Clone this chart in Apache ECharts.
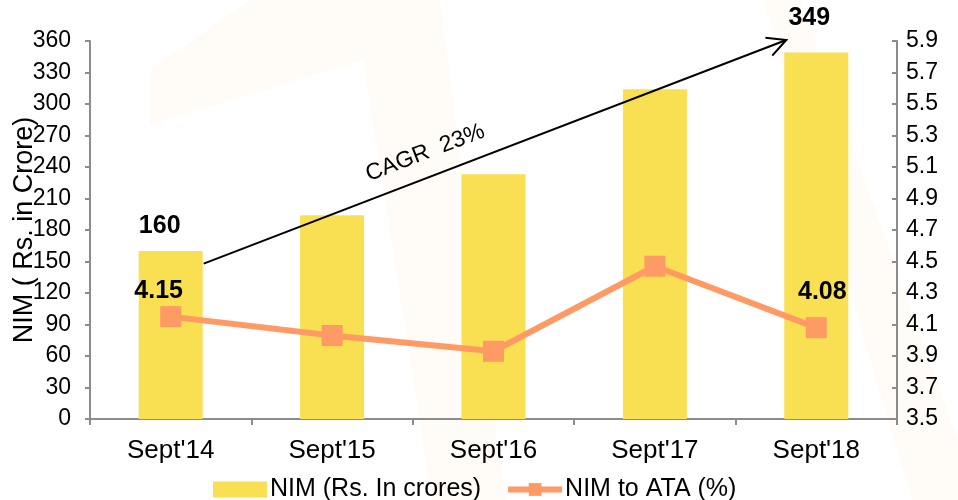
<!DOCTYPE html>
<html>
<head>
<meta charset="utf-8">
<script src="https://cdn.jsdelivr.net/npm/echarts@6/dist/echarts.min.js"></script>
<style>
html,body{margin:0;padding:0;background:#fff;}
#c{width:958px;height:500px;}
</style>
</head>
<body>
<div id="c"></div>
<script>
// ---- data ----
var categories = ["Sept'14", "Sept'15", "Sept'16", "Sept'17", "Sept'18"];
var nimCrores = [160, 194, 233, 314, 349];
var nimToAta = [4.15, 4.03, 3.93, 4.47, 4.08];
var leftTicks = {min: 0, max: 360, interval: 30};
var rightTicks = {min: 3.5, max: 5.9, interval: 0.2};
var cagrText = 'CAGR  23%';
var arrowFrom = [0, 148];   // [category index, value] start of CAGR arrow
var arrowTo = [4, 361];     // end of CAGR arrow

var FONT = 'Liberation Sans, Arial, sans-serif';
var BAR = '#F9DF52';
var LINE = '#FF9A64';
var AXIS = '#8c8c8c';

var barLabelCfg = {
  0: {distance: 12, offset: [-11, 0]},
  4: {distance: 22, offset: [-7, 0]}
};
var lineLabelCfg = {
  0: {distance: 3, offset: [-12, 0]},
  4: {distance: 13, offset: [6, 0]}
};

var barData = nimCrores.map(function (v, i) {
  var c = barLabelCfg[i];
  return c ? {value: v, label: {show: true, position: 'top', distance: c.distance, offset: c.offset}} : v;
});
var lineData = nimToAta.map(function (v, i) {
  var c = lineLabelCfg[i];
  return c ? {value: v, label: {show: true, position: 'top', distance: c.distance, offset: c.offset,
    formatter: function (p) { return p.value.toFixed(2); }}} : v;
});

var chart = echarts.init(document.getElementById('c'), null, {renderer: 'canvas'});

var option = {
  animation: false,
  backgroundColor: '#ffffff',
  textStyle: {fontFamily: FONT},
  grid: {left: 90, right: 61, top: 41, bottom: 81, containLabel: false, outerBoundsMode: 'none'},
  legend: {
    data: [
      {name: 'NIM (Rs. In crores)', icon: 'rect'},
      {name: 'NIM to ATA (%)', lineStyle: {width: 6}}
    ],
    left: 208,
    top: 472,
    itemWidth: 54,
    itemHeight: 16,
    itemGap: 24,
    textStyle: {fontSize: 25, color: '#000', fontFamily: FONT, padding: [0, 0, 0, -2]}
  },
  xAxis: {
    type: 'category',
    data: categories,
    boundaryGap: true,
    axisLine: {lineStyle: {color: AXIS, width: 2}},
    axisTick: {show: true, alignWithLabel: false, length: 6, lineStyle: {color: AXIS, width: 2}},
    axisLabel: {fontSize: 26, color: '#000', margin: 19, fontFamily: FONT}
  },
  yAxis: [
    {
      type: 'value',
      min: leftTicks.min, max: leftTicks.max, interval: leftTicks.interval,
      name: 'NIM ( Rs. in Crore)',
      nameLocation: 'middle',
      nameGap: 52,
      nameMoveOverlap: false,
      nameRotate: 90,
      nameTextStyle: {fontSize: 27, color: '#000', fontFamily: FONT},
      axisLine: {show: true, lineStyle: {color: AXIS, width: 2}},
      axisTick: {show: true, length: 5, lineStyle: {color: AXIS, width: 2}},
      axisLabel: {fontSize: 23, color: '#000', margin: 19, fontFamily: FONT},
      splitLine: {show: false}
    },
    {
      type: 'value',
      position: 'right',
      min: rightTicks.min, max: rightTicks.max, interval: rightTicks.interval,
      axisLine: {show: true, lineStyle: {color: AXIS, width: 2}},
      axisTick: {show: true, inside: true, length: 5, lineStyle: {color: AXIS, width: 2}},
      axisLabel: {fontSize: 23, color: '#000', margin: 9, fontFamily: FONT,
        formatter: function (v) { return v.toFixed(1); }},
      splitLine: {show: false}
    }
  ],
  series: [
    {
      name: 'NIM (Rs. In crores)',
      type: 'bar',
      yAxisIndex: 0,
      data: barData,
      barWidth: 64,
      itemStyle: {color: BAR},
      label: {show: false, color: '#000', fontSize: 25, fontWeight: 'bold', fontFamily: FONT},
      z: 2
    },
    {
      name: 'NIM to ATA (%)',
      type: 'line',
      yAxisIndex: 1,
      data: lineData,
      symbol: 'rect',
      symbolSize: 21,
      lineStyle: {color: LINE, width: 6},
      itemStyle: {color: LINE},
      label: {show: false, color: '#000', fontSize: 25, fontWeight: 'bold', fontFamily: FONT},
      z: 3
    }
  ]
};
chart.setOption(option);

// ---- annotations positioned through the chart's own scales ----
function drawAnnotations() {
  var a = chart.convertToPixel({xAxisIndex: 0, yAxisIndex: 0}, arrowFrom);
  var b = chart.convertToPixel({xAxisIndex: 0, yAxisIndex: 0}, arrowTo);
  var half = 33;
  var x0 = a[0] + half, y0 = a[1];
  var x1 = b[0] - 30, y1 = b[1];
  var dx = x1 - x0, dy = y1 - y0;
  var len = Math.sqrt(dx * dx + dy * dy);
  var ux = dx / len, uy = dy / len;
  var back = Math.atan2(-uy, -ux);
  var armLen = 21, spread = 27 * Math.PI / 180;
  var h1 = [x1 + armLen * Math.cos(back + spread), y1 + armLen * Math.sin(back + spread)];
  var h2 = [x1 + armLen * Math.cos(back - spread), y1 + armLen * Math.sin(back - spread)];
  var t = 0.395;
  var mx = x0 + dx * t, my = y0 + dy * t;
  var px = uy, py = -ux;
  if (py > 0) { px = -px; py = -py; }
  var tx = mx + px * 24, ty = my + py * 24;
  var rot = -Math.atan2(dy, dx);

  chart.setOption({
    graphic: [
      {type: 'polygon', silent: true, z: -10,
        shape: {points: [[150, 70], [250, 0], [440, 0], [505, 500], [432, 500], [363, 60], [150, 125]]},
        style: {fill: '#FFFCF8'}},
      {type: 'polygon', silent: true, z: -10,
        shape: {points: [[763, 0], [800, 0], [958, 440], [958, 500], [912, 500]]},
        style: {fill: '#FFFCF8'}},
      {type: 'line', silent: true, z: 50,
        shape: {x1: x0, y1: y0, x2: x1, y2: y1},
        style: {stroke: '#000', lineWidth: 2}},
      {type: 'polyline', silent: true, z: 50,
        shape: {points: [h1, [x1, y1], h2]},
        style: {stroke: '#000', lineWidth: 2, fill: null}},
      {type: 'text', silent: true, z: 50,
        x: tx, y: ty, rotation: rot,
        style: {text: cagrText, fill: '#000', font: '23px ' + FONT, textAlign: 'center', textVerticalAlign: 'middle'}}
    ]
  });
}
drawAnnotations();
</script>
</body>
</html>
